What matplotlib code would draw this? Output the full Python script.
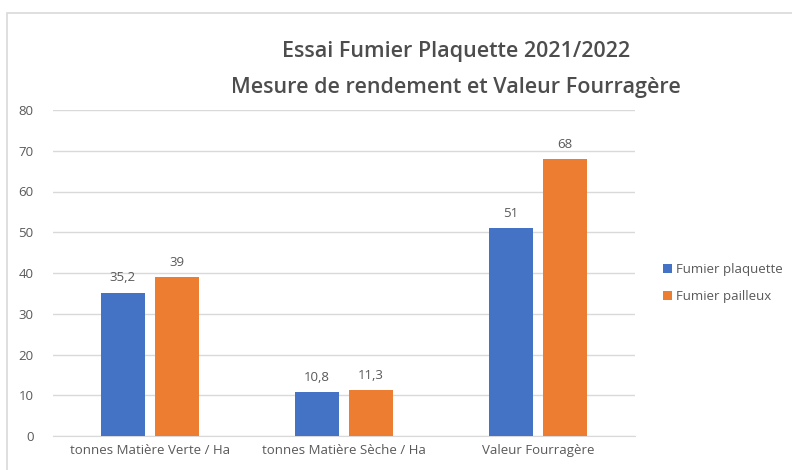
import numpy as np
import matplotlib.pyplot as plt
from matplotlib.patches import Rectangle

plt.rcParams['font.family'] = ['Open Sans', 'DejaVu Sans']

categories = ['tonnes Matière Verte / Ha', 'tonnes Matière Sèche / Ha', 'Valeur Fourragère']
plaquette = [35.2, 10.8, 51]
pailleux = [39, 11.3, 68]
labels_plaquette = ['35,2', '10,8', '51']
labels_pailleux = ['39', '11,3', '68']

blue = '#4472C4'
orange = '#ED7D31'
grey = '#595959'

fig = plt.figure(figsize=(7.92, 4.70), dpi=100)
fig.patches.append(Rectangle((7/792, -0.1), 1.0, 1 - 13/470 + 0.1, transform=fig.transFigure,
                             fill=False, edgecolor='#d9d9d9', linewidth=1.2))
ax = fig.add_axes([53/792, 1 - 436/470, 582/792, 326/470])

x = np.arange(len(categories))
w = 0.227
off = 0.14
b1 = ax.bar(x - off, plaquette, w, color=blue, label='Fumier plaquette', zorder=3)
b2 = ax.bar(x + off, pailleux, w, color=orange, label='Fumier pailleux', zorder=3)

for bars, labs in ((b1, labels_plaquette), (b2, labels_pailleux)):
    for b, t in zip(bars, labs):
        ax.text(b.get_x() + b.get_width() / 2, b.get_height() + 2.0, t,
                ha='center', va='bottom', fontsize=9.5, color=grey)

ax.set_xlim(-0.5, 2.5)
ax.set_ylim(0, 80)
ax.set_yticks(range(0, 81, 10))
ax.set_xticks(x)
ax.set_xticklabels(categories)
ax.tick_params(axis='both', length=0, labelsize=9.5, labelcolor=grey)
ax.tick_params(axis='y', pad=14)
ax.tick_params(axis='x', pad=6)
ax.grid(axis='y', color='#d9d9d9', linewidth=1, zorder=0)
for s in ('top', 'right', 'left'):
    ax.spines[s].set_visible(False)
ax.spines['bottom'].set_color('#d9d9d9')

fig.text(456/792, 1 - 52/470, 'Essai Fumier Plaquette 2021/2022', ha='center', va='center',
         fontsize=15.5, color='#4d4d4d', fontweight='semibold')
fig.text(456/792, 1 - 87/470, 'Mesure de rendement et Valeur Fourragère', ha='center', va='center',
         fontsize=15.5, color='#4d4d4d', fontweight='semibold')

fig.legend(handles=[b1, b2], loc='center left', bbox_to_anchor=(651/792, 1 - 283/470),
           frameon=False, fontsize=9.5, labelcolor=grey, handlelength=0.7, handleheight=0.7,
           handletextpad=0.3, labelspacing=1.1)

fig.savefig('out.png', dpi=100)
